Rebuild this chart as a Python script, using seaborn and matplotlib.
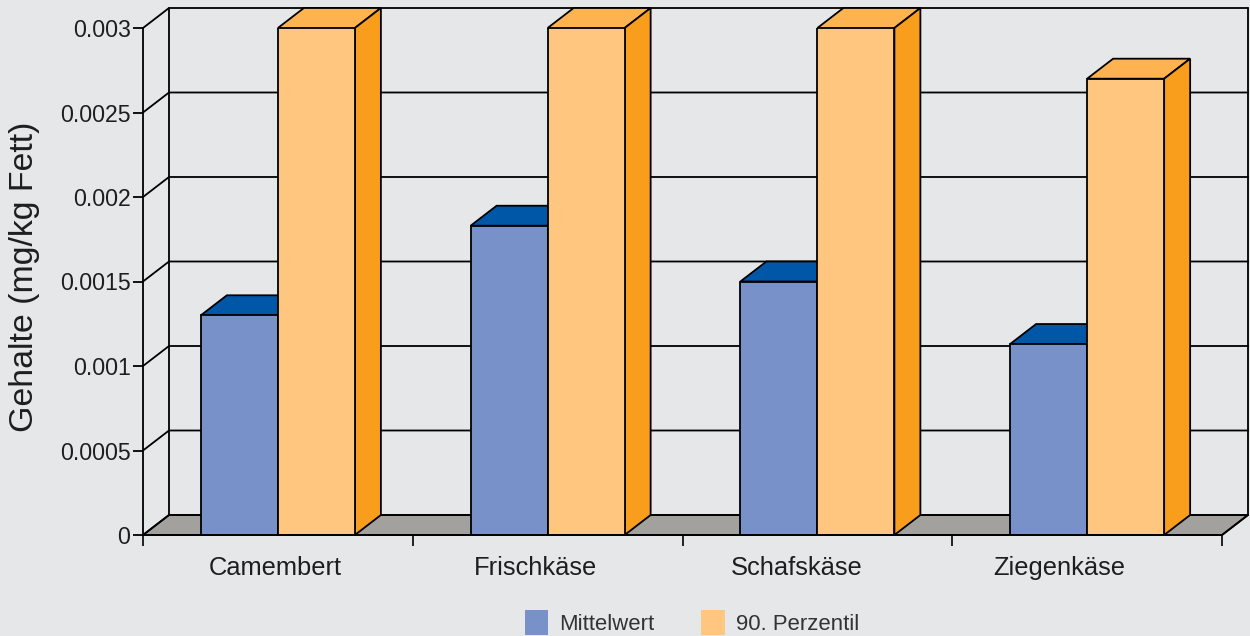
import matplotlib
matplotlib.use("Agg")
import matplotlib.pyplot as plt
import pandas as pd
import seaborn as sns
from matplotlib.patches import Polygon

categories = ["Camembert", "Frischkäse", "Schafskäse", "Ziegenkäse"]
mittelwert = [0.00130, 0.00183, 0.00150, 0.00113]
perzentil = [0.00300, 0.00300, 0.00300, 0.00270]
series_names = ["Mittelwert", "90. Perzentil"]
y_ticks = [0, 0.0005, 0.001, 0.0015, 0.002, 0.0025, 0.003]
y_labels = ["0", "0.0005", "0.001", "0.0015", "0.002", "0.0025", "0.003"]
label_shift_px = [-3, -12, -21, -28]

BG = "#E6E7E9"
FRONT = ["#7891C9", "#FEC67E"]
TOP = ["#0057A8", "#FDB350"]
SIDE = ["#004A94", "#F99D1C"]
FLOOR = "#A3A19E"
TXT = "#1E1E1E"
LW = 1.3

sns.set_theme(style="ticks")
plt.rcParams["font.family"] = ["Liberation Sans", "DejaVu Sans"]

df = pd.DataFrame({
    "Kategorie": categories * 2,
    "Serie": [series_names[0]] * 4 + [series_names[1]] * 4,
    "Wert": mittelwert + perzentil,
})

fig = plt.figure(figsize=(12.5, 6.36), dpi=100, facecolor=BG)
ax = fig.add_axes([143 / 1250, (636 - 535) / 636, 1079 / 1250, 507 / 636])
ax.set_facecolor("none")

sns.barplot(data=df, x="Kategorie", y="Wert", hue="Serie", hue_order=series_names,
            palette=FRONT, width=0.571, gap=0, saturation=1, errorbar=None,
            edgecolor="black", linewidth=LW, zorder=5, ax=ax)

ax.set_xlim(-0.5, 3.5)
ax.set_ylim(0, 0.003)

# oblique depth of the pseudo-3D box, as a share of the axis ranges
dx = 26 / 1079 * 4
dy = 20 / 507 * 0.003
x0, x1 = -0.5, 3.5

# floor and back walls
ax.add_patch(Polygon([(x0, 0), (x0 + dx, dy), (x1 + dx, dy), (x1, 0)], closed=True,
                     facecolor=FLOOR, edgecolor="black", linewidth=LW, zorder=1,
                     clip_on=False))
for t in y_ticks:
    ax.plot([x0, x0 + dx, x1 + dx], [t, t + dy, t + dy], color="black", lw=LW,
            zorder=2, clip_on=False, solid_joinstyle="miter")
ax.plot([x0 + dx, x0 + dx], [dy, y_ticks[-1] + dy], color="black", lw=LW, zorder=2, clip_on=False)
ax.plot([x1 + dx, x1 + dx], [dy, y_ticks[-1] + dy], color="black", lw=LW, zorder=2, clip_on=False)
ax.plot([x1, x1 + dx], [0, dy], color="black", lw=LW, zorder=2, clip_on=False)

# top and side faces from the drawn bars
for i, container in enumerate(ax.containers):
    for rect in container:
        l, w, h = rect.get_x(), rect.get_width(), rect.get_height()
        ax.add_patch(Polygon([(l, h), (l + dx, h + dy), (l + w + dx, h + dy), (l + w, h)],
                             closed=True, facecolor=TOP[i], edgecolor="black",
                             linewidth=LW, zorder=4, clip_on=False))
        ax.add_patch(Polygon([(l + w, 0), (l + w + dx, dy), (l + w + dx, h + dy), (l + w, h)],
                             closed=True, facecolor=SIDE[i], edgecolor="black",
                             linewidth=LW, zorder=4, clip_on=False))

# axes
sns.despine(ax=ax)
for s in ("left", "bottom"):
    ax.spines[s].set_linewidth(LW)
    ax.spines[s].set_color("black")
ax.spines["bottom"].set_zorder(6)
ax.set_yticks(y_ticks)
ax.set_yticklabels(y_labels)
ax.tick_params(axis="y", length=7, width=LW, pad=2, labelsize=16.7, labelcolor=TXT, color="black")
ax.set_xticks([x0 + k for k in range(len(categories) + 1)])
ax.set_xticklabels([])
ax.tick_params(axis="x", which="major", length=8, width=1.2, color="black")
ax.set_xticks([k + s * 4 / 1079 for k, s in enumerate(label_shift_px)], minor=True)
ax.set_xticklabels(categories, minor=True)
ax.tick_params(axis="x", which="minor", length=0, pad=15, labelsize=18.4, labelcolor=TXT)
ax.set_xlabel("")
ax.set_ylabel("")
fig.text(25 / 1250, 1 - 277 / 636, "Gehalte (mg/kg Fett)", rotation=90, fontsize=24.4,
         color=TXT, ha="center", va="center")

# legend
sns.move_legend(ax, "lower left", bbox_to_anchor=(525 / 1250, 1 / 636),
                bbox_transform=fig.transFigure, ncol=2, frameon=False, title=None,
                fontsize=15.9, handlelength=1.05, handleheight=1.39, handletextpad=0.5,
                columnspacing=2.13, borderpad=0, borderaxespad=0)
leg = ax.get_legend()
for h in leg.legend_handles:
    h.set_edgecolor("none")
    h.set_linewidth(0)
for t in leg.get_texts():
    t.set_color("#333333")

fig.savefig("out.png", dpi=100, facecolor=BG)
